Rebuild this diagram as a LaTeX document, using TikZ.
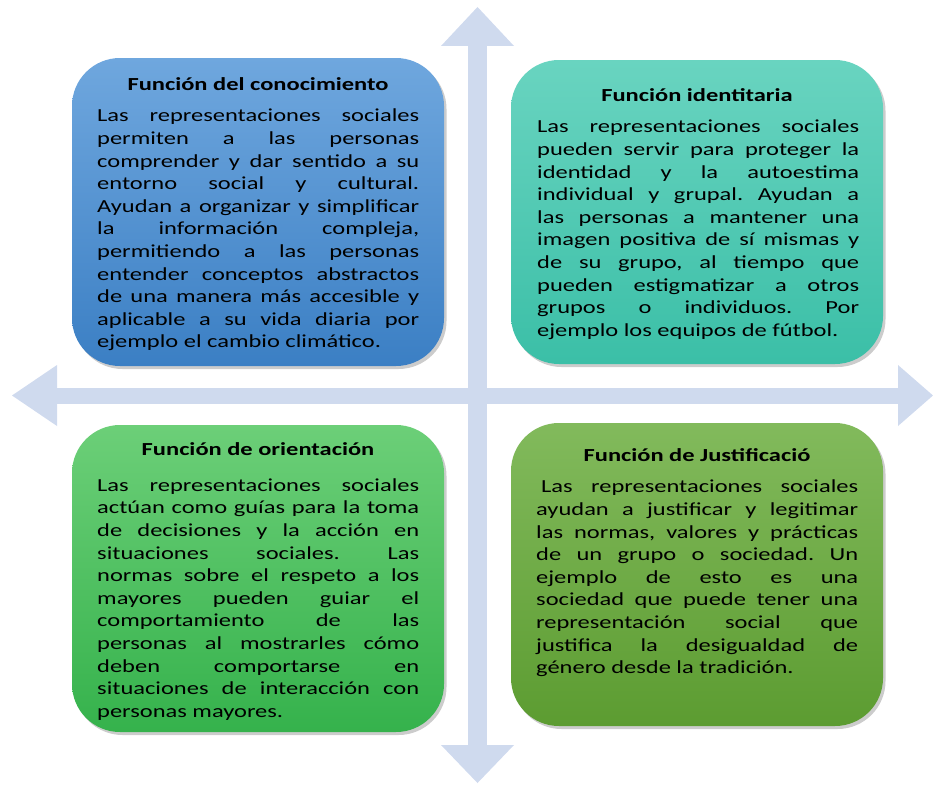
\documentclass[tikz,border=0pt]{standalone}
\usepackage{fontspec}
\setmainfont{Carlito}[FakeStretch=1.33]
\usetikzlibrary{arrows.meta,shadows}
\definecolor{crossblue}{HTML}{CFDAEE}
\definecolor{bluetop}{HTML}{6FA7DE}
\definecolor{bluebot}{HTML}{3B7FC4}
\definecolor{tealtop}{HTML}{69D4C0}
\definecolor{tealbot}{HTML}{3BBFA7}
\definecolor{greentop}{HTML}{6CCF78}
\definecolor{greenbot}{HTML}{35B24C}
\definecolor{olivetop}{HTML}{82BA5C}
\definecolor{olivebot}{HTML}{5C9C31}
\frenchspacing
\begin{document}
\begin{tikzpicture}[x=1pt,y=-1pt]
        \tikzstyle{card}=[rectangle,rounded corners=48pt,minimum width=372pt,drop shadow={shadow xshift=2.5pt,shadow yshift=-3pt,opacity=.4}]
        \tikzstyle{heading}=[anchor=base,inner sep=0pt,font=\fontsize{18.4}{22.6}\selectfont\bfseries]
        \tikzstyle{body}=[anchor=north west,inner sep=0pt,text width=322pt,align=justify,font=\fontsize{18.4}{22.6}\selectfont\frenchspacing]
        \tikzstyle{cross}=[draw=crossblue]

       \useasboundingbox (0,0) rectangle (933,784);

       % the cross behind the four cards
       \begin{scope}
         \coordinate (up)    at (477.5,7);
         \coordinate (down)  at (477.5,783);
         \coordinate (left)  at (12,395.5);
         \coordinate (right) at (933,395.5);

         \draw[cross, line width=19pt, {Triangle[length=39pt,width=73pt,line width=0pt]}-{Triangle[length=38pt,width=73pt,line width=0pt]}] (up) -- (down);
         \draw[cross, line width=16pt, {Triangle[length=45pt,width=61pt,line width=0pt]}-{Triangle[length=35pt,width=61pt,line width=0pt]}] (left) -- (right);
       \end{scope}

       \begin{scope}
         \node [card, minimum height=308pt, top color=bluetop,   bottom color=bluebot]   (b1) at (258,212)   {};
         \node [card, minimum height=304pt, top color=tealtop,   bottom color=tealbot]   (b2) at (697,212)   {};
         \node [card, minimum height=307pt, top color=greentop,  bottom color=greenbot]  (b3) at (258,578.5) {};
         \node [card, minimum height=303pt, top color=olivetop,  bottom color=olivebot]  (b4) at (697,574.5) {};

         \node [heading] (t1) at (258,90.7)  {Función del conocimiento};
         \node [heading] (t2) at (697,101.7) {Función identitaria};
         \node [heading] (t3) at (258,455)   {Función de orientación};
         \node [heading] (t4) at (697,461.7) {Función de Justificació};

         \node [body] (p1) at (97,105.9) {\strut Las representaciones sociales\linebreak
           permiten a las personas\linebreak
           comprender y dar sentido a su\linebreak
           entorno social y cultural.\linebreak
           Ayudan a organizar y simplificar\linebreak
           la información compleja,\linebreak
           permitiendo a las personas\linebreak
           entender conceptos abstractos\linebreak
           de una manera más accesible y\linebreak
           aplicable a su vida diaria por\linebreak
           ejemplo el cambio climático.};
         \node [body] (p2) at (537,116.9) {\strut Las representaciones sociales\linebreak
           pueden servir para proteger la\linebreak
           identidad y la autoestima\linebreak
           individual y grupal. Ayudan a\linebreak
           las personas a mantener una\linebreak
           imagen positiva de sí mismas y\linebreak
           de su grupo, al tiempo que\linebreak
           pueden estigmatizar a otros\linebreak
           grupos o individuos. Por\linebreak
           ejemplo los equipos de fútbol.};
         \node [body] (p3) at (97,475.2) {\strut Las representaciones sociales\linebreak
           actúan como guías para la toma\linebreak
           de decisiones y la acción en\linebreak
           situaciones sociales. Las\linebreak
           normas sobre el respeto a los\linebreak
           mayores pueden guiar el\linebreak
           comportamiento de las\linebreak
           personas al mostrarles cómo\linebreak
           deben comportarse en\linebreak
           situaciones de interacción con\linebreak
           personas mayores.};
         \node [body] (p4) at (536,476.9) {\strut\hspace*{5pt}Las representaciones sociales\linebreak
           ayudan a justificar y legitimar\linebreak
           las normas, valores y prácticas\linebreak
           de un grupo o sociedad. Un\linebreak
           ejemplo de esto es una\linebreak
           sociedad que puede tener una\linebreak
           representación social que\linebreak
           justifica la desigualdad de\linebreak
           género desde la tradición.};
       \end{scope}
\end{tikzpicture}
\end{document}
